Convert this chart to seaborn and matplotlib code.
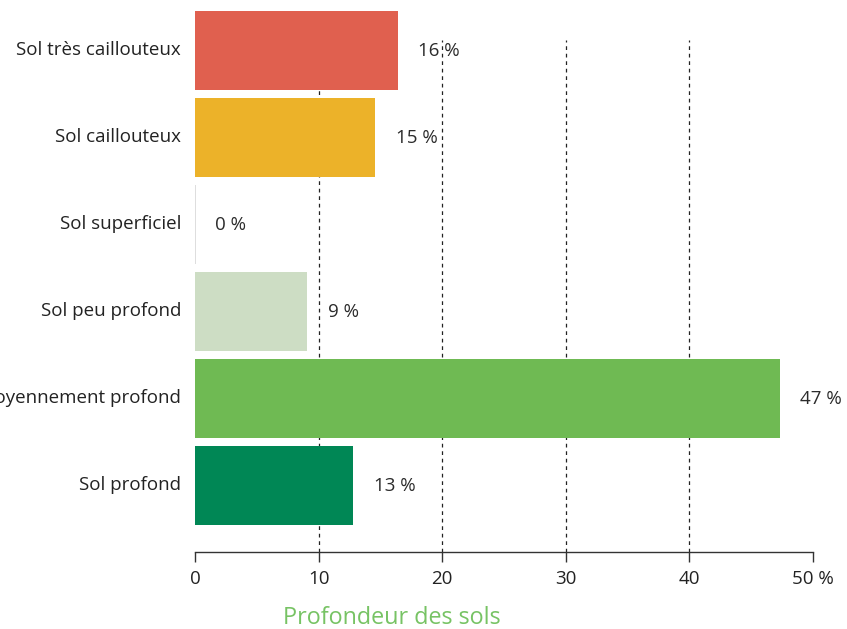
import matplotlib.pyplot as plt
import matplotlib.transforms as mtransforms
import pandas as pd
import seaborn as sns

# Data
categories = [
    "Sol très caillouteux",
    "Sol caillouteux",
    "Sol superficiel",
    "Sol peu profond",
    "Sol moyennement profond",
    "Sol profond",
]
values = [16.4, 14.6, 0.0, 9.1, 47.3, 12.8]
labels = ["16 %", "15 %", "0 %", "9 %", "47 %", "13 %"]
colors = ["#e0604f", "#ecb229", "#ffffff", "#cdddc4", "#6fba53", "#008755"]
xticks = [0, 10, 20, 30, 40, 50]
xticklabels = ["0", "10", "20", "30", "40", "50 %"]

df = pd.DataFrame({"categorie": categories, "part": values})

sns.set_theme(style="white")
plt.rcParams["font.family"] = ["Open Sans", "DejaVu Sans"]

fig = plt.figure(figsize=(8.47, 6.29), dpi=100)
ax = fig.add_axes([195 / 847, 77 / 629, (813 - 195) / 847, 541 / 629])

sns.barplot(
    data=df,
    x="part",
    y="categorie",
    hue="categorie",
    palette=colors,
    saturation=1,
    orient="h",
    width=0.908,
    legend=False,
    ax=ax,
    zorder=2,
)

# light edge on the empty bar
for patch, v in zip(ax.patches, values):
    patch.set_linewidth(0)
    if v == 0:
        patch.set_edgecolor("#d8d8d8")
        patch.set_linewidth(1.2)

ax.set_xlim(0, 50)
ax.set_ylim(5.764, -0.454)

# dashed grid lines, behind the bars
for t in xticks[1:-1]:
    ax.axvline(t, ymin=0, ymax=0.946, color="#222222", lw=0.9,
               ls=(0, (3, 3)), zorder=1)

# value labels
for i, (v, lab) in enumerate(zip(values, labels)):
    ax.text(v + 1.65, i, lab, va="center", ha="left",
            fontsize=13.5, color="#2b2b2b")

ax.set_xticks(xticks)
ax.set_xticklabels(xticklabels)
ax.tick_params(axis="x", direction="out", length=7, width=1, color="#333333",
               labelsize=13.5, labelcolor="#222222", pad=6, bottom=True)
ax.tick_params(axis="y", length=0, labelsize=13.5, labelcolor="#222222", pad=10)

# category labels sit a little above the bar centre
shift = mtransforms.ScaledTranslation(0, 3 / 100, fig.dpi_scale_trans)
for lab in ax.get_yticklabels():
    lab.set_transform(lab.get_transform() + shift)

for side in ["top", "right", "left"]:
    ax.spines[side].set_visible(False)
ax.spines["bottom"].set_color("#333333")
ax.spines["bottom"].set_linewidth(1)

ax.set_xlabel("")
ax.set_ylabel("")
fig.text(392 / 847, 5 / 629, "Profondeur des sols", ha="center",
         va="baseline", fontsize=16.8, color="#77c364")

fig.savefig("out.png", dpi=100)
